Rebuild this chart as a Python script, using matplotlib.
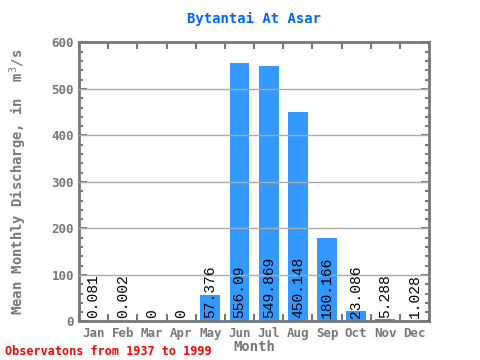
import numpy as np
import matplotlib
matplotlib.use("Agg")
import matplotlib.pyplot as plt
from matplotlib.ticker import MultipleLocator

months = ["Jan", "Feb", "Mar", "Apr", "May", "Jun", "Jul", "Aug", "Sep", "Oct", "Nov", "Dec"]
discharge = [0.081, 0.002, 0.0, 0.0, 57.376, 556.09, 549.869, 450.148, 180.166, 23.086, 5.288, 1.028]
labels = ["0.081", "0.002", "0", "0", "57.376", "556.09", "549.869", "450.148", "180.166", "23.086", "5.288", "1.028"]

plt.rcParams['font.family'] = ['DejaVu Sans Mono']
gray = "#777777"

fig = plt.figure(figsize=(4.8, 3.6), dpi=100)
ax = fig.add_axes([0.1646, 0.107, 0.894 - 0.1646, 0.882 - 0.107])

x = np.arange(len(months))
ax.bar(x, discharge, width=0.68, color="#3399ff", zorder=2)
for v in [100, 200, 300, 400, 500]:
    ax.axhline(v, color="#aaaaaa", lw=1, zorder=3)
for xi, lab in zip(x, labels):
    ax.text(xi, 7, lab, rotation=90, ha="center", va="bottom", fontsize=10.5,
            family="Liberation Mono", color="black", zorder=4)

ax.set_xlim(-0.5, 11.5)
ax.set_ylim(0, 600)
ax.set_xticks(x)
ax.set_xticklabels(months)
ax.set_xticks(np.arange(-0.5, 12, 1), minor=True)
ax.yaxis.set_major_locator(MultipleLocator(100))
ax.yaxis.set_minor_locator(MultipleLocator(20))
ax.tick_params(axis="x", which="major", length=0, labelsize=9, labelcolor=gray, pad=4)
ax.tick_params(axis="x", which="minor", direction="in", length=5, width=1.5, color=gray, top=True)
ax.tick_params(axis="y", which="major", direction="in", length=6, width=1.5, color=gray, labelsize=9, labelcolor=gray, right=True)
ax.tick_params(axis="y", which="minor", direction="in", length=3, width=1.5, color=gray, right=True)
for lbl in ax.get_xticklabels() + ax.get_yticklabels():
    lbl.set_fontweight("bold")
for s in ax.spines.values():
    s.set_color(gray)
    s.set_linewidth(2)

ax.set_title("Bytantai At Asar", color="#0066ff", fontsize=10, fontweight="bold", pad=14)
ax.set_xlabel("Month", color=gray, fontsize=10, fontweight="bold", labelpad=0)
ax.set_ylabel("Mean Monthly Discharge, in  m$^3$/s", color=gray, fontsize=10, fontweight="bold", labelpad=16)
fig.text(0.01, 0.015, "Observatons from 1937 to 1999", color="red", fontsize=8.5, fontweight="bold")

fig.savefig("out.png", dpi=100)
